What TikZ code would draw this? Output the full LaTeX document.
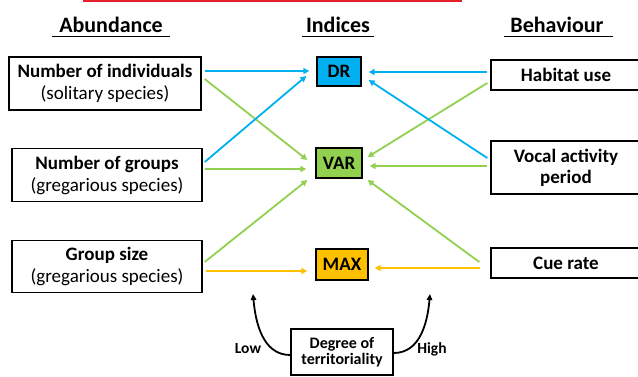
\documentclass[tikz,border=0pt]{standalone}
\usepackage{fontspec}
\setmainfont{Carlito}
\usetikzlibrary{arrows.meta,calc}
\definecolor{cblue}{HTML}{00B0F0}
\definecolor{cgreen}{HTML}{92D050}
\definecolor{corange}{HTML}{FFC000}
\definecolor{cred}{HTML}{E3202C}
\begin{document}
\begin{tikzpicture}[x=1pt,y=-1pt,
  abox/.style={draw=black,line width=1.4pt,inner sep=0pt,align=center,font=\fontsize{19}{22}\selectfont},
  ibox/.style={draw=black,line width=1.4pt,inner sep=0pt,align=center,font=\fontsize{19}{22}\selectfont\bfseries},
  hdr/.style={inner sep=0pt,anchor=base,font=\fontsize{22}{26}\selectfont\bfseries},
  conn/.style={line width=1.8pt,-{Triangle[length=6pt,width=6pt]}},
  curv/.style={line width=1.8pt,-{Triangle[length=6pt,width=5.5pt]}},
  small/.style={inner sep=0pt,font=\fontsize{15.5}{17}\selectfont\bfseries}]
\useasboundingbox (0,0) rectangle (638,376);
% top red line
\draw[cred,line width=2pt] (83,1) -- (462,1);
% headers
\node[hdr] (hA) at (111,32) {Abundance};
\node[hdr] (hI) at (338,32) {Indices};
\node[hdr] (hB) at (557,32) {Behaviour};
\draw[line width=1.2pt] (52,36.5) -- (170,36.5);
\draw[line width=1.2pt] (302,36.5) -- (374,36.5);
\draw[line width=1.2pt] (504,36.5) -- (613,36.5);
% left boxes
\node[abox,minimum width=192pt,minimum height=53pt] (n1) at (105,83.3) {\bfseries Number of individuals\\(solitary species)};
\node[abox,minimum width=190pt,minimum height=53pt] (n2) at (107,175) {\bfseries Number of groups\\(gregarious species)};
\node[abox,minimum width=190pt,minimum height=52pt] (n3) at (107,266.7) {\bfseries Group size\\(gregarious species)};
% index boxes
\node[ibox,fill=cblue,minimum width=44pt,minimum height=29pt] (dr) at (339,71.5) {DR};
\node[ibox,fill=cgreen,minimum width=46pt,minimum height=30pt] (var) at (339,163) {VAR};
\node[ibox,fill=corange,minimum width=52pt,minimum height=31pt] (max) at (342,264.5) {MAX};
% right boxes
\node[abox,font=\fontsize{19}{21}\selectfont\bfseries,minimum width=150pt,minimum height=30pt] (hab) at (566,75) {Habitat use};
\node[abox,font=\fontsize{19}{21}\selectfont\bfseries,minimum width=150pt,minimum height=53pt] (voc) at (566,167.5) {Vocal activity\\period};
\node[abox,font=\fontsize{19}{21}\selectfont\bfseries,minimum width=150pt,minimum height=30pt] (cue) at (566,263) {Cue rate};
% bottom box
\node[abox,font=\fontsize{16}{16}\selectfont\bfseries,minimum width=102pt,minimum height=46pt] (ter) at (342,352) {Degree of\\territoriality};
% left connectors
\draw[conn,cblue] ($(n1.east)+(3,-12.3)$) -- ($(dr.west)+(-7,-0.5)$);
\draw[conn,cgreen] ($(n1.east)+(3,-4.3)$) -- ($(var.west)+(-8,-3)$);
\draw[conn,cblue] ($(n2.east)+(2,-13)$) -- ($(dr.west)+(-10,4.5)$);
\draw[conn,cgreen] ($(n2.east)+(2,-6)$) -- ($(var.west)+(-9,6)$);
\draw[conn,cgreen] ($(n3.east)+(2,-4.7)$) -- ($(var.west)+(-8,17)$);
\draw[conn,corange] ($(n3.east)+(3,4.3)$) -- ($(max.west)+(-8,6.5)$);
% right connectors
\draw[conn,cblue] ($(hab.west)+(-3,-3)$) -- ($(dr.east)+(7,0.5)$);
\draw[conn,cgreen] ($(hab.west)+(-3,8)$) -- ($(var.east)+(5,-6)$);
\draw[conn,cblue] ($(voc.west)+(-3,-9.5)$) -- ($(dr.east)+(7,8.5)$);
\draw[conn,cgreen] ($(voc.west)+(-3,-1.5)$) -- ($(var.east)+(7,3)$);
\draw[conn,cgreen] ($(cue.west)+(-11,-1)$) -- ($(var.east)+(5,17)$);
\draw[conn,corange] ($(cue.west)+(-10,5)$) -- ($(max.east)+(6,3.5)$);
% territoriality curves
\coordinate (lowtip) at (253,294);
\coordinate (hightip) at (430,294);
\draw[curv] ($(ter.west)+(0,3)$) to[out=180,in=-85] (lowtip);
\draw[curv] ($(ter.east)+(0,1)$) to[out=0,in=-95] (hightip);
\node[small] (low) at (248,349) {Low};
\node[small] (high) at (432,349) {High};
\end{tikzpicture}
\end{document}
